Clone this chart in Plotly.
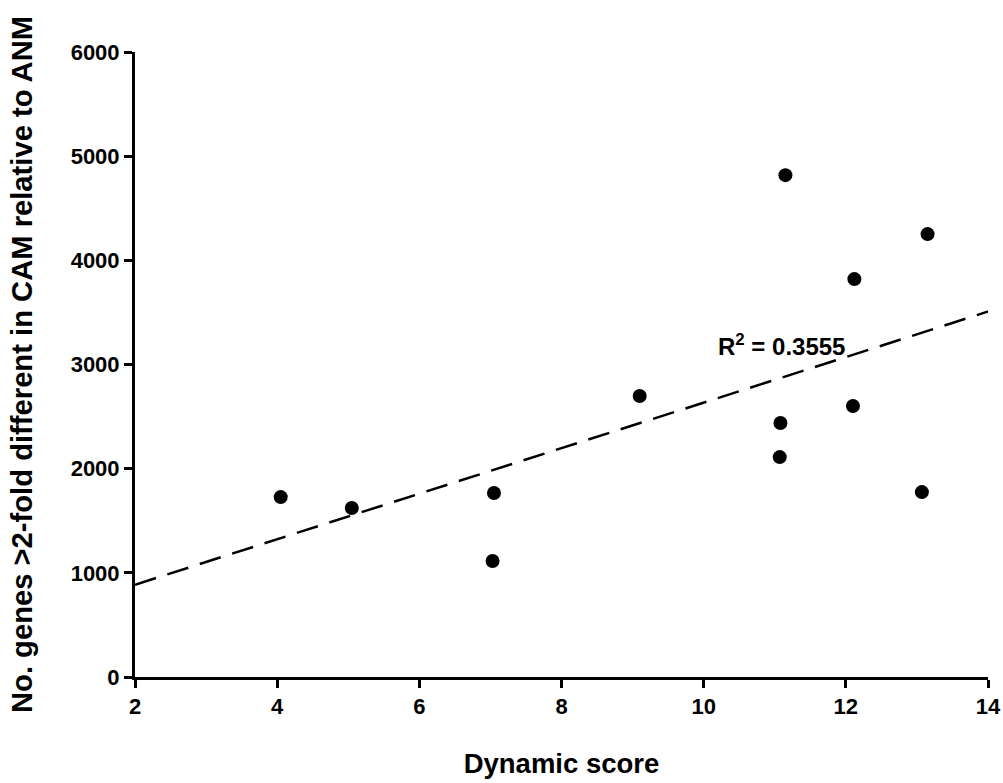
import numpy as np
import plotly.graph_objects as go

# Data
dynamic_score = [4.05, 5.05, 7.05, 7.03, 9.1, 11.15, 11.08, 11.07, 12.12, 12.1, 13.15, 13.07]
genes_diff = [1727, 1622, 1766, 1113, 2697, 4818, 2438, 2111, 3820, 2601, 4252, 1775]
x_ticks = [2, 4, 6, 8, 10, 12, 14]
y_ticks = [0, 1000, 2000, 3000, 4000, 5000, 6000]
r2_label = "R<sup>2</sup> = 0.3555"

# Linear trend line through the data
slope, intercept = np.polyfit(dynamic_score, genes_diff, 1)
trend_x = np.array([2, 14.1])
trend_y = slope * trend_x + intercept

FONT = "Liberation Sans, Arial, sans-serif"

fig = go.Figure()
fig.add_trace(go.Scatter(
    x=trend_x, y=trend_y, mode="lines",
    line=dict(color="black", width=2.5, dash="22px,12px"),
    hoverinfo="skip", showlegend=False, cliponaxis=False,
))
fig.add_trace(go.Scatter(
    x=dynamic_score, y=genes_diff, mode="markers",
    marker=dict(color="black", size=14, symbol="circle"),
    showlegend=False,
))

fig.add_annotation(
    x=11.1, y=3190, text=r2_label, showarrow=False,
    font=dict(family=FONT, size=24, color="black", weight="bold"),
)

axis_common = dict(
    showline=True, linecolor="black", linewidth=3,
    ticks="outside", ticklen=8, tickwidth=3, tickcolor="black",
    showgrid=False, zeroline=False, automargin=False,
    tickfont=dict(family=FONT, size=22, color="black", weight="bold"),
)

fig.update_layout(
    width=1003, height=783,
    margin=dict(l=135, r=15, t=52, b=106),
    paper_bgcolor="white", plot_bgcolor="white",
    xaxis=dict(
        range=[2, 14], tickvals=x_ticks,
        title=dict(text="Dynamic score", standoff=36,
                   font=dict(family=FONT, size=27.5, color="black", weight="bold")),
        **axis_common,
    ),
    yaxis=dict(
        range=[0, 6000], tickvals=y_ticks,
        title=dict(text="No. genes >2-fold different in CAM relative to ANM", standoff=30,
                   font=dict(family=FONT, size=29.2, color="black", weight="bold")),
        **axis_common,
    ),
)

fig.write_html("out.html")
